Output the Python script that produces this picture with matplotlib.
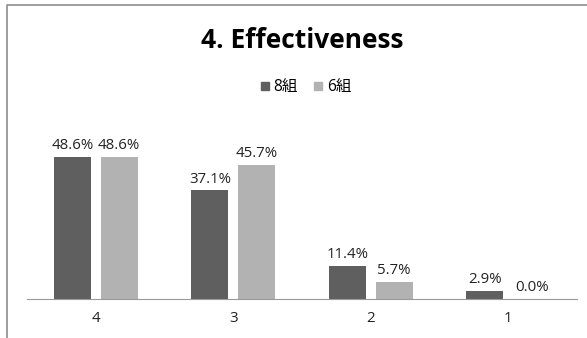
import numpy as np
import matplotlib.pyplot as plt
from matplotlib.lines import Line2D

plt.rcParams['font.family'] = ['Open Sans', 'Noto Sans CJK JP', 'DejaVu Sans']

categories = ['4', '3', '2', '1']
series_names = ['8組', '6組']
group8 = [48.6, 37.1, 11.4, 2.9]
group6 = [48.6, 45.7, 5.7, 0.0]
colors = ['#5f5f5f', '#b2b2b2']

fig = plt.figure(figsize=(5.87, 3.38), dpi=100)
ax = fig.add_axes([27 / 587, 39 / 338, 550 / 587, 0.52])

x = np.arange(len(categories))
width = 0.27
offset = 0.17
bars8 = ax.bar(x - offset, group8, width, color=colors[0], label=series_names[0])
bars6 = ax.bar(x + offset, group6, width, color=colors[1], label=series_names[1])

for bars, vals in [(bars8, group8), (bars6, group6)]:
    for b, v in zip(bars, vals):
        ax.text(b.get_x() + b.get_width() / 2, v + 1.3, f'{v:.1f}%',
                ha='center', va='bottom', fontsize=10.8, color='#222222')

ax.set_xlim(-0.5, len(categories) - 0.5)
ax.set_ylim(0, 60)
ax.set_xticks(x)
ax.set_xticklabels(categories, fontsize=10.8, color='#222222')
ax.tick_params(axis='x', length=0, pad=9)
ax.set_yticks([])
for side in ['top', 'right', 'left']:
    ax.spines[side].set_visible(False)
ax.spines['bottom'].set_color('#9a9a9a')

fig.text(302 / 587, 1 - 41 / 338, '4. Effectiveness', ha='center', va='center',
         fontsize=19, fontweight='bold', color='#000000')

handles = [Line2D([], [], marker='s', linestyle='none', markersize=6,
                  color=c) for c in colors]
fig.legend(handles, series_names, loc='center', bbox_to_anchor=(306 / 587, 1 - 87 / 338),
           ncol=2, frameon=False, fontsize=11.2, handlelength=0.5,
           handletextpad=0.3, columnspacing=1.1)

# outer chart frame (cut off at right and bottom)
fig.add_artist(Line2D([7 / 587, 7 / 587, 1.0], [0.0, 1 - 5 / 338, 1 - 5 / 338],
                      transform=fig.transFigure, color='#8c8c8c', linewidth=1.2))

fig.savefig('out.png', dpi=100, facecolor='white')
